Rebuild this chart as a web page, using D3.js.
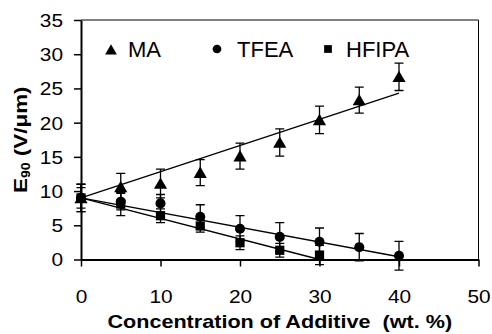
<!DOCTYPE html>
<html>
<head>
<meta charset="utf-8">
<script src="https://cdn.jsdelivr.net/npm/d3@7"></script>
<style>
  body { margin: 0; background: #fff; }
  svg text { font-family: "Liberation Sans", Arial, sans-serif; fill: #000; white-space: pre; }
</style>
</head>
<body>
<div id="chart"></div>
<script>
// data
const xTicks = [0, 10, 20, 30, 40, 50];
const yTicks = [0, 5, 10, 15, 20, 25, 30, 35];

const conc = [0, 5, 10, 15, 20, 25, 30, 35, 40];
const maVals = [9.0, 10.6, 11.1, 12.7, 15.1, 17.1, 20.4, 23.3, 26.7];
const maErr = [2.0, 2.0, 2.1, 1.9, 1.9, 2.0, 2.0, 1.9, 2.0];
const tfeaVals = [9.0, 8.45, 8.2, 6.25, 4.5, 3.3, 2.6, 1.8, 0.55];
const tfeaErr = [2.0, 1.2, 1.3, 1.75, 1.9, 2.1, 2.0, 2.0, 2.1];
const hfipaConc = [0, 5, 10, 15, 20, 25, 30];
const hfipaVals = [9.0, 8.1, 6.4, 4.9, 2.45, 1.35, 0.65];
const hfipaErr = [1.5, 1.7, 1.0, 0.9, 1.0, 1.0, 1.4];

const maTrend = [[0, 9.0], [40, 24.3]];
const tfeaTrend = [[0, 9.0], [40, 0.4]];
const hfipaTrend = [[0, 9.0], [30, 0.0]];

const width = 492, height = 334;
const margin = { top: 20, right: 13.5, bottom: 74.5, left: 81 };

const svg = d3.select("#chart")
  .append("svg")
    .attr("width", width)
    .attr("height", height);

const x = d3.scaleLinear([0, 50], [margin.left, width - margin.right]);
const y = d3.scaleLinear([0, 35], [height - margin.bottom, margin.top]);

// frame (top + right)
svg.append("path")
  .attr("d", `M${x(0)},${y(35)}H${x(50)}V${y(0)}`)
  .attr("fill", "none")
  .attr("stroke", "#000")
  .attr("stroke-width", 1);

const xAxis = svg.append("g")
  .attr("transform", `translate(0, ${y(0)})`)
  .call(d3.axisBottom(x).tickValues(xTicks).tickSize(7).tickPadding(23.5).tickSizeOuter(0));

const yAxis = svg.append("g")
  .attr("transform", `translate(${x(0)}, 0)`)
  .call(d3.axisLeft(y).tickValues(yTicks).tickSize(7).tickPadding(11).tickSizeOuter(0));

[xAxis, yAxis].forEach(g => {
  g.select(".domain").attr("stroke", "#000").attr("stroke-width", 2);
  g.selectAll(".tick line").attr("stroke", "#000").attr("stroke-width", 1.5);
  g.selectAll("text")
    .attr("font-size", 18)
    .attr("textLength", d => String(d).length * 11.6)
    .attr("lengthAdjust", "spacingAndGlyphs")
    .attr("font-family", "Liberation Sans, Arial, sans-serif")
    .attr("fill", "#000");
});
yAxis.selectAll("text").attr("dy", "0.36em");

// axis titles
svg.append("text")
  .attr("transform", `translate(${(x(0) + x(50)) / 2}, 328) scale(1.2, 1)`)
  .attr("text-anchor", "middle")
  .attr("font-size", 18)
  .attr("font-weight", "bold")
  .text("Concentration of Additive  (wt. %)");

const yTitle = svg.append("text")
  .attr("transform", `translate(27, ${(y(0) + y(35)) / 2}) rotate(-90) scale(1.18, 1)`)
  .attr("text-anchor", "middle")
  .attr("font-size", 19)
  .attr("font-weight", "bold");
yTitle.append("tspan").text("E");
yTitle.append("tspan").attr("font-size", 12).attr("dy", 3).text("90");
yTitle.append("tspan").attr("dy", -3).text(" (V/μm)");

// trend lines
const line = d3.line().x(d => x(d[0])).y(d => y(d[1]));
[maTrend, tfeaTrend, hfipaTrend].forEach(t => {
  svg.append("path")
    .attr("d", line(t))
    .attr("fill", "none")
    .attr("stroke", "#000")
    .attr("stroke-width", 1.3);
});

const series = [
  { xs: conc, vals: maVals, err: maErr, shape: d3.symbolTriangle, size: 75 },
  { xs: conc, vals: tfeaVals, err: tfeaErr, shape: d3.symbolCircle, size: 80 },
  { xs: hfipaConc, vals: hfipaVals, err: hfipaErr, shape: d3.symbolSquare, size: 85 }
];

const capW = 4.5;
series.forEach(s => {
  const pts = s.xs.map((c, i) => [c, s.vals[i], s.err[i]]);
  const eb = svg.append("g")
    .attr("stroke", "#000")
    .attr("stroke-width", 1.3);
  eb.selectAll("path")
    .data(pts)
    .join("path")
      .attr("fill", "none")
      .attr("d", d => {
        const cx = x(d[0]), y1 = y(d[1] + d[2]), y2 = y(d[1] - d[2]);
        return `M${cx},${y1}V${y2}M${cx - capW},${y1}H${cx + capW}M${cx - capW},${y2}H${cx + capW}`;
      });
  svg.append("g")
    .selectAll("path")
    .data(pts)
    .join("path")
      .attr("transform", d => `translate(${x(d[0])}, ${y(d[1]) + (s.shape === d3.symbolTriangle ? 1.5 : 0)})`)
      .attr("d", d3.symbol(s.shape, s.size))
      .attr("fill", "#000");
});

// legend
const legend = [
  { name: "MA", shape: d3.symbolTriangle, size: 60, sx: 111, tx: 128 },
  { name: "TFEA", shape: d3.symbolCircle, size: 60, sx: 217, tx: 237 },
  { name: "HFIPA", shape: d3.symbolSquare, size: 60, sx: 328, tx: 346 }
];
const lg = svg.append("g");
legend.forEach(l => {
  lg.append("path")
    .attr("transform", `translate(${l.sx}, ${l.shape === d3.symbolTriangle ? 51 : 49})`)
    .attr("d", d3.symbol(l.shape, l.size))
    .attr("fill", "#000");
  lg.append("text")
    .attr("x", l.tx)
    .attr("y", 57)
    .attr("font-size", 22)
    .text(l.name);
});
</script>
</body>
</html>
